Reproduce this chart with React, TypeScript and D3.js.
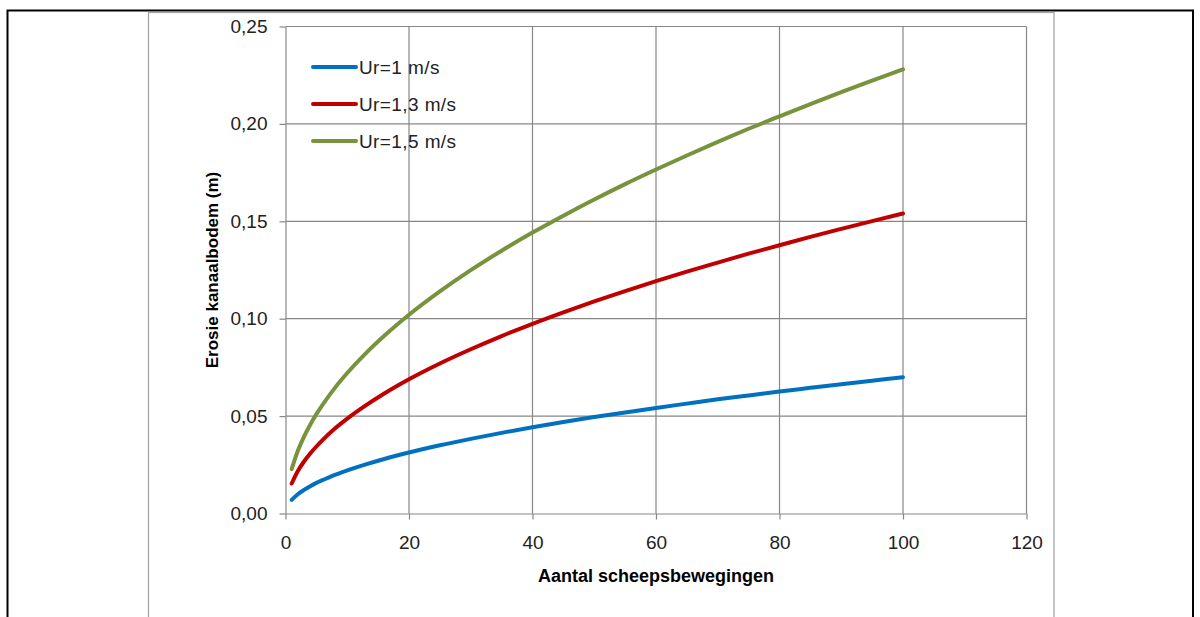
import * as d3 from "d3";
import React, { useEffect, useRef } from "react";

const xValues = [1, 2, 3, 4, 5, 6, 8, 10, 13, 16, 20, 25, 30, 35, 40, 45, 50, 55, 60, 65, 70, 75, 80, 85, 90, 95, 100];

const blueValues = [0.007, 0.0099, 0.0121, 0.014, 0.0157, 0.0171, 0.0198, 0.0221, 0.0252, 0.028, 0.0313, 0.035, 0.0383, 0.0414, 0.0443, 0.047, 0.0495, 0.0519, 0.0542, 0.0564, 0.0586, 0.0606, 0.0626, 0.0645, 0.0664, 0.0682, 0.07];
const redValues = [0.0154, 0.0218, 0.0267, 0.0308, 0.0344, 0.0377, 0.0436, 0.0487, 0.0555, 0.0616, 0.0689, 0.077, 0.0843, 0.0911, 0.0974, 0.1033, 0.1089, 0.1142, 0.1193, 0.1242, 0.1288, 0.1334, 0.1377, 0.142, 0.1461, 0.1501, 0.154];
const greenValues = [0.0228, 0.0322, 0.0395, 0.0456, 0.051, 0.0558, 0.0645, 0.0721, 0.0822, 0.0912, 0.102, 0.114, 0.1249, 0.1349, 0.1442, 0.1529, 0.1612, 0.1691, 0.1766, 0.1838, 0.1908, 0.1975, 0.2039, 0.2102, 0.2163, 0.2222, 0.228];

const seriesNames = ["Ur=1 m/s", "Ur=1,3 m/s", "Ur=1,5 m/s"];
const seriesColors = ["#0070c0", "#c00000", "#77933c"];

const xTicks = [0, 20, 40, 60, 80, 100, 120];
const yTicks = [0, 0.05, 0.1, 0.15, 0.2, 0.25];

const xTitle = "Aantal scheepsbewegingen";
const yTitle = "Erosie kanaalbodem (m)";

const FONT = "'Liberation Sans', Arial, sans-serif";

function App() {
  const svgRef = useRef<SVGSVGElement>(null);

  useEffect(() => {
    const svg = d3.select(svgRef.current);
    svg.selectAll("*").remove();

    // page frame
    svg.append("rect").attr("x", 7.5).attr("y", 10.5).attr("width", 1185.5).attr("height", 620)
      .attr("fill", "none").attr("stroke", "#000").attr("stroke-width", 2);
    svg.append("rect").attr("x", 148.5).attr("y", 12.5).attr("width", 905.5).attr("height", 620)
      .attr("fill", "#fff").attr("stroke", "#a6a6a6").attr("stroke-width", 1.3);

    const xScale = d3.scaleLinear().domain([0, 120]).range([285.5, 1026.5]);
    const yScale = d3.scaleLinear().domain([0, 0.25]).range([513.5, 26.5]);

    const grid = svg.append("g");
    grid.selectAll(".vg").data(xTicks.slice(1)).join("line")
      .attr("x1", (d) => xScale(d)).attr("x2", (d) => xScale(d))
      .attr("y1", yScale(0)).attr("y2", yScale(0.25))
      .attr("stroke", "#878787").attr("stroke-width", 1.2);
    grid.selectAll(".hg").data(yTicks.slice(1)).join("line")
      .attr("x1", xScale(0)).attr("x2", xScale(120))
      .attr("y1", (d) => yScale(d)).attr("y2", (d) => yScale(d))
      .attr("stroke", "#878787").attr("stroke-width", 1.2);

    const fmt = (d: number) => d3.format(".2f")(d).replace(".", ",");

    const xAxis = d3.axisBottom(xScale).tickValues(xTicks).tickSize(6).tickPadding(16).tickSizeOuter(0);
    const gx = svg.append("g").attr("transform", `translate(0, ${yScale(0)})`).call(xAxis);
    const yAxis = d3.axisLeft(yScale).tickValues(yTicks).tickFormat(fmt as any).tickSize(6).tickPadding(12).tickSizeOuter(0);
    const gy = svg.append("g").attr("transform", `translate(${xScale(0)}, 0)`).call(yAxis);

    [gx, gy].forEach((g) => {
      g.select(".domain").attr("stroke", "#878787").attr("stroke-width", 1.2);
      g.selectAll(".tick line").attr("stroke", "#878787").attr("stroke-width", 1.2);
      g.selectAll(".tick text").attr("font-family", FONT).attr("font-size", 19).attr("fill", "#222");
    });

    const lineGenerator = d3.line<number>()
      .x((d, i) => xScale(xValues[i]))
      .y((d) => yScale(d))
      .curve(d3.curveMonotoneX);

    [blueValues, redValues, greenValues].forEach((vals, i) => {
      svg.append("path").datum(vals)
        .attr("fill", "none").attr("stroke", seriesColors[i]).attr("stroke-width", 4)
        .attr("stroke-linecap", "round").attr("d", lineGenerator);
    });

    const legend = svg.append("g");
    seriesNames.forEach((name, i) => {
      const ly = 67 + i * 37;
      legend.append("line").attr("x1", 313).attr("x2", 356).attr("y1", ly).attr("y2", ly)
        .attr("stroke", seriesColors[i]).attr("stroke-width", 4).attr("stroke-linecap", "round");
      legend.append("text").attr("x", 359).attr("y", ly).attr("dy", "0.35em")
        .attr("font-family", FONT).attr("font-size", 19).attr("letter-spacing", 0.4)
        .attr("fill", "#222").text(name);
    });

    svg.append("text").attr("x", (xScale(0) + xScale(120)) / 2).attr("y", 582)
      .attr("text-anchor", "middle").attr("font-family", FONT).attr("font-weight", "bold")
      .attr("font-size", 18).attr("fill", "#000").text(xTitle);
    svg.append("text").attr("transform", `translate(218, ${yScale(0.125)}) rotate(-90)`)
      .attr("text-anchor", "middle").attr("font-family", FONT).attr("font-weight", "bold")
      .attr("font-size", 17).attr("fill", "#000").text(yTitle);
  }, []);

  return (
    <svg ref={svgRef} width={1200} height={617}
      style={{ position: "absolute", left: 0, top: 0, background: "#fff" }} />
  );
}

export default App;
